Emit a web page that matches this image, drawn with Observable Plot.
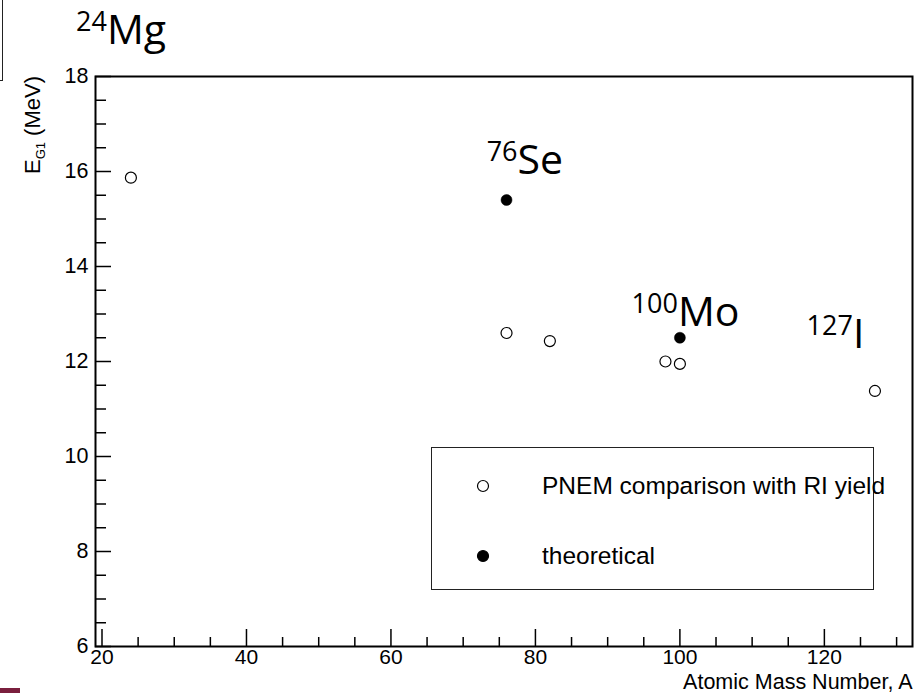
<!DOCTYPE html>
<html>
<head>
<meta charset="utf-8">
<script src="https://cdn.jsdelivr.net/npm/d3@7"></script>
<script src="https://cdn.jsdelivr.net/npm/@observablehq/plot@0.6"></script>
<style>
  html, body { margin: 0; padding: 0; background: #fff; }
  #wrap { position: relative; width: 924px; height: 693px; overflow: hidden; background: #fff; }
  #wrap > svg { position: absolute; left: 0; top: 0; }
  #legend { position: absolute; left: 431px; top: 447px; width: 443px; height: 143px;
            border: 1px solid #222; box-sizing: border-box; }
  #legend svg { position: absolute; left: 0; top: 0; overflow: visible; }
  #cropbox { position: absolute; left: -2px; top: -2px; width: 4px; height: 82px;
             border-right: 1.5px solid #222; border-bottom: 1.5px solid #222; }
  #cropbar { position: absolute; left: 0; top: 688px; width: 20px; height: 5px; background: #7a1f3d; }
</style>
</head>
<body>
<div id="wrap"></div>
<script>
// ---- data ----
const pnemA = [24, 76, 82, 98, 100, 127];            // atomic mass number
const pnemE = [15.87, 12.60, 12.43, 12.00, 11.95, 11.38]; // E_G1 (MeV), PNEM comparison with RI yield
const theoA = [76, 100];
const theoE = [15.40, 12.50];                          // theoretical

const xMajorTicks = [20, 40, 60, 80, 100, 120];
const xTickLabels = ["20", "40", "60", "80", "100", "120"];
const yMajorTicks = [6, 8, 10, 12, 14, 16, 18];
const yTickLabels = ["6", "8", "10", "12", "14", "16", "18"];
const xMinorTicks = d3.range(20, 132.5, 5).filter(v => v % 20 !== 0);
const yMinorTicks = d3.range(6, 18.01, 0.5).filter(v => v % 2 !== 0);

const xTitle = "Atomic Mass Number, A";
const legendLabels = ["PNEM comparison with RI yield", "theoretical"];

const pnem = pnemA.map((a, i) => ({A: a, E: pnemE[i]}));
const theo = theoA.map((a, i) => ({A: a, E: theoE[i]}));

// isotope annotations, anchored to a data point
const isotopes = [
  {mass: "24", symbol: "Mg", anchor: pnem[0]},
  {mass: "76", symbol: "Se", anchor: theo[0]},
  {mass: "100", symbol: "Mo", anchor: theo[1]},
  {mass: "127", symbol: "I", anchor: pnem[5]}
];
const isoOffsets = [[-24, -134], [11, -26], [-2, -12], [-22, -43]];

const annFont = "'Open Sans', 'Noto Sans', sans-serif";
function isoMarks(iso, [dx, dy]) {
  const d = [iso.anchor];
  return [
    Plot.text(d, {x: "A", y: "E", text: () => iso.mass, textAnchor: "end", lineAnchor: "bottom",
      dx: dx, dy: dy - 13, fontSize: 27, fontFamily: annFont, fill: "black"}),
    Plot.text(d, {x: "A", y: "E", text: () => iso.symbol, textAnchor: "start", lineAnchor: "bottom",
      dx: dx, dy: dy, fontSize: 41, fontFamily: annFont, fill: "black"})
  ];
}

const blank = () => "";
const plot = Plot.plot({
  width: 924,
  height: 693,
  marginLeft: 95,
  marginRight: 12,
  marginTop: 76,
  marginBottom: 47,
  x: {domain: [19.1, 132.2]},
  y: {domain: [6, 18]},
  style: {fontFamily: "'Liberation Sans', Arial, Helvetica, sans-serif", fontSize: "21px",
          background: "white", color: "black", overflow: "visible"},
  marks: [
    Plot.axisX(xMinorTicks, {tickSize: -9, tickFormat: blank, strokeWidth: 1.5, label: null}),
    Plot.axisX(xMajorTicks, {tickSize: -17, tickFormat: blank, strokeWidth: 1.5, label: null}),
    Plot.axisY(yMinorTicks, {tickSize: -11, tickFormat: blank, strokeWidth: 1.5, label: null}),
    Plot.axisY(yMajorTicks, {tickSize: -16, tickFormat: blank, strokeWidth: 1.5, label: null}),
    Plot.axisX(xMajorTicks, {tickSize: 0, tickPadding: 3, fontSize: 21,
      tickFormat: (d) => xTickLabels[xMajorTicks.indexOf(d)], label: null}),
    Plot.axisY(yMajorTicks, {tickSize: 0, tickPadding: 7, fontSize: 21.5,
      tickFormat: (d) => yTickLabels[yMajorTicks.indexOf(d)], label: null}),
    Plot.frame({stroke: "black", strokeWidth: 2}),
    Plot.dot(pnem, {x: "A", y: "E", r: 5.5, stroke: "black", fill: "white", strokeWidth: 1.2}),
    Plot.dot(theo, {x: "A", y: "E", r: 5.5, fill: "black", stroke: "black", strokeWidth: 0.5}),
    Plot.text([xTitle], {text: d => d, frameAnchor: "bottom-right", textAnchor: "end",
      lineAnchor: "bottom", dy: 42.5, fontSize: 21.5, fill: "black"}),
    ...isotopes.flatMap((iso, i) => isoMarks(iso, isoOffsets[i]))
  ]
});

// y-axis title with subscript
const svg = d3.select(plot);
const yt = svg.append("text")
  .attr("transform", "translate(40,76) rotate(-90)")
  .attr("text-anchor", "end")
  .attr("font-family", "'Liberation Sans', Arial, sans-serif")
  .attr("font-size", 22)
  .attr("fill", "black");
yt.append("tspan").text("E");
yt.append("tspan").attr("font-size", 13).attr("dy", 5).text("G1");
yt.append("tspan").attr("dy", -5).text(" (MeV)");

const wrap = document.getElementById("wrap");
wrap.appendChild(plot);

// legend (box drawn inside the frame, like the original)
const legend = document.createElement("div");
legend.id = "legend";
wrap.appendChild(legend);
const lg = d3.select(legend).append("svg").attr("width", 443).attr("height", 143);
const items = [
  {label: legendLabels[0], fill: "white", cy: 38},
  {label: legendLabels[1], fill: "black", cy: 108}
];
items.forEach(it => {
  lg.append("circle").attr("cx", 51).attr("cy", it.cy).attr("r", 5.5)
    .attr("fill", it.fill).attr("stroke", "black").attr("stroke-width", 1.2);
  lg.append("text").attr("x", 110).attr("y", it.cy + 8)
    .attr("font-family", "'Liberation Sans', Arial, sans-serif").attr("font-size", 24.5)
    .attr("fill", "black").text(it.label);
});

// cropping remnants at the left edge of the original slide
const cb = document.createElement("div"); cb.id = "cropbox"; wrap.appendChild(cb);
const bar = document.createElement("div"); bar.id = "cropbar"; wrap.appendChild(bar);
</script>
</body>
</html>
